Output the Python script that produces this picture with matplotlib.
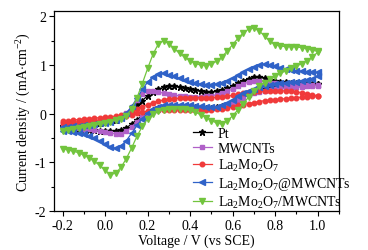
"""
Cyclic voltammetry curves of Pt, MWCNTs and La2Mo2O7 based electrodes.
"""

import matplotlib
matplotlib.use("Agg")
import matplotlib.pyplot as plt
from matplotlib.ticker import MultipleLocator

plt.rcParams["font.family"] = ["Liberation Serif", "DejaVu Serif"]
plt.rcParams["mathtext.fontset"] = "custom"
plt.rcParams["mathtext.rm"] = "Liberation Serif"
plt.rcParams["mathtext.it"] = "Liberation Serif:italic"

# potential grid (V vs SCE), shared by every branch
voltage = [-0.2, -0.175, -0.15, -0.125, -0.1, -0.075, -0.05, -0.025, 0.0,
           0.025, 0.05, 0.075, 0.1, 0.125, 0.15, 0.175, 0.2, 0.225, 0.25,
           0.275, 0.3, 0.325, 0.35, 0.375, 0.4, 0.425, 0.45, 0.475, 0.5,
           0.525, 0.55, 0.575, 0.6, 0.625, 0.65, 0.675, 0.7, 0.725, 0.75,
           0.775, 0.8, 0.825, 0.85, 0.875, 0.9, 0.925, 0.95, 0.975, 1.0]

# anodic (forward) and cathodic (return) branches, mA/cm2
pt_fwd = [-0.25, -0.24, -0.23, -0.22, -0.21, -0.20, -0.19, -0.18, -0.17,
          -0.15, -0.12, -0.07, 0.0, 0.08, 0.17, 0.27, 0.37, 0.45, 0.51,
          0.54, 0.56, 0.56, 0.54, 0.52, 0.50, 0.48, 0.46, 0.45, 0.45,
          0.46, 0.48, 0.52, 0.57, 0.63, 0.68, 0.72, 0.75, 0.75, 0.73,
          0.70, 0.68, 0.66, 0.65, 0.64, 0.63, 0.63, 0.62, 0.62, 0.62]
pt_rev = [-0.28, -0.29, -0.30, -0.31, -0.32, -0.33, -0.34, -0.35, -0.36,
          -0.36, -0.36, -0.34, -0.29, -0.21, -0.12, -0.04, 0.03, 0.08, 0.11,
          0.13, 0.14, 0.14, 0.14, 0.14, 0.13, 0.13, 0.12, 0.12, 0.12,
          0.13, 0.15, 0.19, 0.25, 0.31, 0.37, 0.42, 0.46, 0.49, 0.51,
          0.53, 0.54, 0.55, 0.56, 0.57, 0.58, 0.59, 0.60, 0.61, 0.62]

cnt_fwd = [-0.22, -0.21, -0.20, -0.19, -0.18, -0.17, -0.16, -0.15, -0.14,
           -0.12, -0.10, -0.06, 0.02, 0.14, 0.28, 0.40, 0.46, 0.47, 0.45,
           0.42, 0.40, 0.38, 0.37, 0.36, 0.35, 0.35, 0.35, 0.36, 0.37,
           0.39, 0.42, 0.46, 0.51, 0.56, 0.61, 0.65, 0.67, 0.67, 0.66,
           0.64, 0.63, 0.62, 0.61, 0.61, 0.60, 0.60, 0.60, 0.59, 0.59]
cnt_rev = [-0.30, -0.30, -0.30, -0.30, -0.31, -0.32, -0.33, -0.35, -0.37,
           -0.39, -0.41, -0.41, -0.36, -0.27, -0.16, -0.06, 0.01, 0.05, 0.08,
           0.09, 0.10, 0.10, 0.10, 0.10, 0.10, 0.10, 0.10, 0.10, 0.10,
           0.11, 0.13, 0.17, 0.22, 0.28, 0.33, 0.38, 0.42, 0.45, 0.47,
           0.49, 0.50, 0.51, 0.52, 0.53, 0.54, 0.55, 0.56, 0.57, 0.58]

lmo_fwd = [-0.15, -0.14, -0.13, -0.12, -0.11, -0.10, -0.09, -0.08, -0.07,
           -0.06, -0.05, -0.03, 0.0, 0.04, 0.09, 0.14, 0.19, 0.23, 0.26,
           0.28, 0.30, 0.31, 0.32, 0.32, 0.33, 0.33, 0.33, 0.33, 0.33,
           0.34, 0.35, 0.36, 0.38, 0.40, 0.42, 0.44, 0.45, 0.46, 0.47,
           0.47, 0.47, 0.47, 0.47, 0.46, 0.45, 0.43, 0.41, 0.39, 0.37]
lmo_rev = [-0.18, -0.18, -0.17, -0.17, -0.16, -0.15, -0.14, -0.13, -0.12,
           -0.11, -0.10, -0.08, -0.05, -0.02, 0.01, 0.03, 0.05, 0.06, 0.07,
           0.08, 0.08, 0.08, 0.08, 0.08, 0.08, 0.08, 0.08, 0.08, 0.08,
           0.09, 0.10, 0.12, 0.14, 0.17, 0.19, 0.21, 0.23, 0.25, 0.27,
           0.28, 0.29, 0.30, 0.31, 0.32, 0.33, 0.34, 0.35, 0.36, 0.37]

core_fwd = [-0.28, -0.27, -0.26, -0.25, -0.24, -0.23, -0.22, -0.20, -0.18,
            -0.16, -0.13, -0.08, 0.01, 0.15, 0.32, 0.50, 0.65, 0.76, 0.82,
            0.83, 0.80, 0.77, 0.73, 0.69, 0.66, 0.63, 0.61, 0.60, 0.60,
            0.61, 0.64, 0.68, 0.73, 0.79, 0.85, 0.91, 0.96, 1.00, 1.02,
            1.01, 0.98, 0.95, 0.92, 0.90, 0.88, 0.87, 0.86, 0.85, 0.85]
core_rev = [-0.35, -0.36, -0.38, -0.40, -0.42, -0.45, -0.50, -0.56, -0.62,
            -0.68, -0.71, -0.66, -0.55, -0.40, -0.24, -0.10, 0.01, 0.09, 0.14,
            0.17, 0.18, 0.19, 0.19, 0.18, 0.17, 0.16, 0.15, 0.14, 0.13,
            0.14, 0.17, 0.22, 0.29, 0.36, 0.42, 0.47, 0.51, 0.54, 0.57,
            0.59, 0.61, 0.63, 0.64, 0.65, 0.66, 0.68, 0.70, 0.72, 0.77]

mix_fwd = [-0.35, -0.34, -0.32, -0.30, -0.28, -0.26, -0.24, -0.21, -0.18,
           -0.16, -0.13, -0.10, -0.04, 0.10, 0.33, 0.62, 0.93, 1.22, 1.43,
           1.50, 1.44, 1.34, 1.24, 1.16, 1.09, 1.03, 1.00, 0.99, 1.02,
           1.08, 1.17, 1.29, 1.42, 1.55, 1.66, 1.74, 1.76, 1.70, 1.60,
           1.49, 1.42, 1.39, 1.38, 1.38, 1.37, 1.36, 1.34, 1.31, 1.28]
mix_rev = [-0.72, -0.74, -0.77, -0.80, -0.85, -0.91, -0.98, -1.06, -1.16,
           -1.25, -1.22, -1.10, -0.92, -0.70, -0.46, -0.26, -0.10, 0.0, 0.05,
           0.08, 0.09, 0.10, 0.10, 0.09, 0.07, 0.03, -0.02, -0.08, -0.14,
           -0.19, -0.21, -0.15, -0.04, 0.08, 0.21, 0.34, 0.46, 0.56, 0.64,
           0.71, 0.77, 0.83, 0.88, 0.93, 0.98, 1.03, 1.09, 1.17, 1.26]

labels = ["Pt", "MWCNTs", r"La$_2$Mo$_2$O$_7$",
          r"La$_2$Mo$_2$O$_7$@MWCNTs", r"La$_2$Mo$_2$O$_7$/MWCNTs"]


def main():
    fig = plt.figure(figsize=(3.68, 2.51), dpi=100)
    ax = fig.add_axes([0.147, 0.155, 0.774, 0.797])

    series = [
        (pt_fwd, pt_rev, "black", "*", 4.8),
        (cnt_fwd, cnt_rev, "#b060c8", "s", 3.0),
        (lmo_fwd, lmo_rev, "#f03a3a", "o", 3.3),
        (core_fwd, core_rev, "#2f62c8", "<", 3.8),
        (mix_fwd, mix_rev, "#72c43e", "v", 4.0),
    ]
    for (fwd, rev, color, marker, ms), label in zip(series, labels):
        xs = voltage + voltage[::-1]
        ys = fwd + rev[::-1]
        ax.plot(xs, ys, color=color, marker=marker, markersize=ms,
                linewidth=0.9, label=label)

    ax.set_xlim(-0.24, 1.1)
    ax.set_ylim(-2, 2.11)
    ax.xaxis.set_minor_locator(MultipleLocator(0.1))
    ax.yaxis.set_minor_locator(MultipleLocator(0.5))
    ax.set_xticks([-0.2, 0.0, 0.2, 0.4, 0.6, 0.8, 1.0])
    ax.set_xticklabels(["-0.2", "0.0", "0.2", "0.4", "0.6", "0.8", "1.0"])
    ax.set_yticks([-2, -1, 0, 1, 2])
    ax.set_yticklabels(["-2", "-1", "0", "1", "2"])
    ax.tick_params(which="major", direction="out", length=3.5, width=0.8,
                   labelsize=10, pad=2)
    ax.tick_params(which="minor", direction="out", length=2, width=0.8)
    for s in ax.spines.values():
        s.set_linewidth(0.9)

    ax.set_xlabel("Voltage / V (vs SCE)", fontsize=10, labelpad=1)
    ax.set_ylabel(r"Current density / (mA$\cdot$cm$^{-2}$)", fontsize=10,
                  labelpad=1)

    ax.legend(loc="lower left", bbox_to_anchor=(0.46, -0.035), frameon=False,
              fontsize=10, handlelength=1.3, handletextpad=0.45,
              labelspacing=0.13, borderaxespad=0.2)

    fig.savefig("out.png", dpi=100, facecolor="white")


if __name__ == "__main__":
    main()
